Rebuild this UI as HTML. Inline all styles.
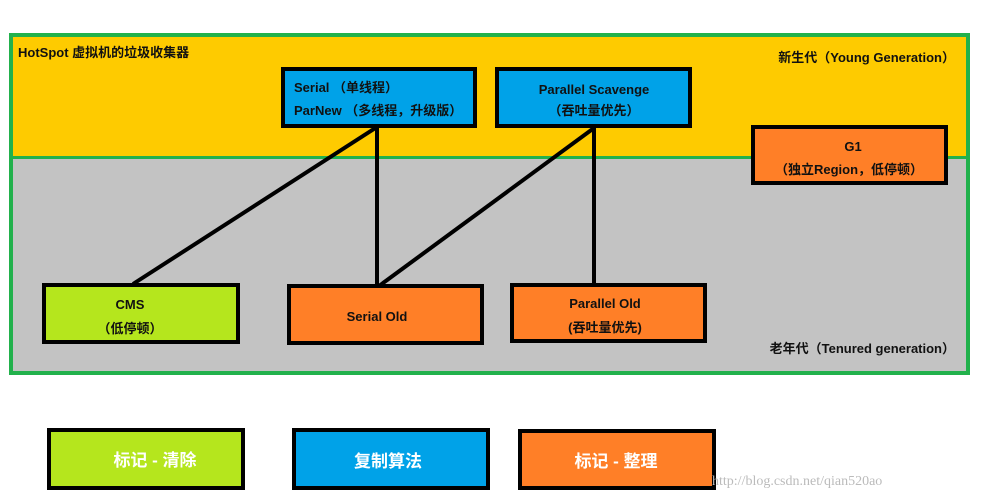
<!DOCTYPE html>
<html><head><meta charset="utf-8"><style>
html,body{margin:0;padding:0;background:#fff;}
svg{display:block;}
text{font-family:"Liberation Sans","Noto Sans CJK SC",sans-serif;font-weight:bold;}
</style></head><body>
<svg width="986" height="502" viewBox="0 0 986 502" xmlns="http://www.w3.org/2000/svg">
<rect x="0" y="0" width="986" height="502" fill="#fff"/>
<rect x="11" y="35" width="957" height="123" fill="#fecb00"/>
<rect x="11" y="158" width="957" height="215" fill="#c3c3c3"/>
<rect x="11" y="35" width="957" height="338" fill="none" stroke="#22b14c" stroke-width="4"/>
<line x1="11" y1="157.5" x2="968" y2="157.5" stroke="#22b14c" stroke-width="3"/>
<text x="18" y="57" font-size="13" fill="#111">HotSpot 虚拟机的垃圾收集器</text>
<text x="955" y="62" font-size="13" fill="#111" text-anchor="end">新生代（Young Generation）</text>
<text x="955" y="353" font-size="13" fill="#111" text-anchor="end">老年代（Tenured generation）</text>
<g stroke="#000" stroke-width="4">
<line x1="377" y1="127" x2="133" y2="284"/>
<line x1="377" y1="127" x2="377" y2="286"/>
<line x1="594" y1="128" x2="379" y2="286"/>
<line x1="594" y1="128" x2="594" y2="284"/>
</g>
<g stroke="#000" stroke-width="4">
<rect x="283" y="69" width="192" height="57" fill="#00a2e8"/>
<rect x="497" y="69" width="193" height="57" fill="#00a2e8"/>
<rect x="753" y="127" width="193" height="56" fill="#ff7f27"/>
<rect x="44" y="285" width="194" height="57" fill="#b5e61d"/>
<rect x="289" y="286" width="193" height="57" fill="#ff7f27"/>
<rect x="512" y="285" width="193" height="56" fill="#ff7f27"/>
<rect x="49" y="430" width="194" height="58" fill="#b5e61d"/>
<rect x="294" y="430" width="194" height="58" fill="#00a2e8"/>
<rect x="520" y="431" width="194" height="57" fill="#ff7f27"/>
</g>
<g font-size="13" fill="#111">
<text x="294" y="92">Serial （单线程）</text>
<text x="294" y="115">ParNew （多线程，升级版）</text>
<text x="594" y="94" text-anchor="middle">Parallel Scavenge</text>
<text x="594" y="115" text-anchor="middle">（吞吐量优先）</text>
<text x="853" y="151" text-anchor="middle">G1</text>
<text x="849" y="174" text-anchor="middle">（独立Region，低停顿）</text>
<text x="130" y="309" text-anchor="middle">CMS</text>
<text x="130" y="333" text-anchor="middle">（低停顿）</text>
<text x="377" y="321" text-anchor="middle">Serial Old</text>
<text x="605" y="308" text-anchor="middle">Parallel Old</text>
<text x="605" y="332" text-anchor="middle">(吞吐量优先)</text>
</g>
<g font-size="17" fill="#fff">
<text x="155" y="466" text-anchor="middle">标记 - 清除</text>
<text x="388" y="467" text-anchor="middle">复制算法</text>
<text x="616" y="467" text-anchor="middle">标记 - 整理</text>
</g>
<text x="712" y="485" font-size="14" fill="#bbb" font-weight="normal" style="font-family:'Liberation Serif',serif;font-weight:normal">http://blog.csdn.net/qian520ao</text>
</svg>
</body></html>
